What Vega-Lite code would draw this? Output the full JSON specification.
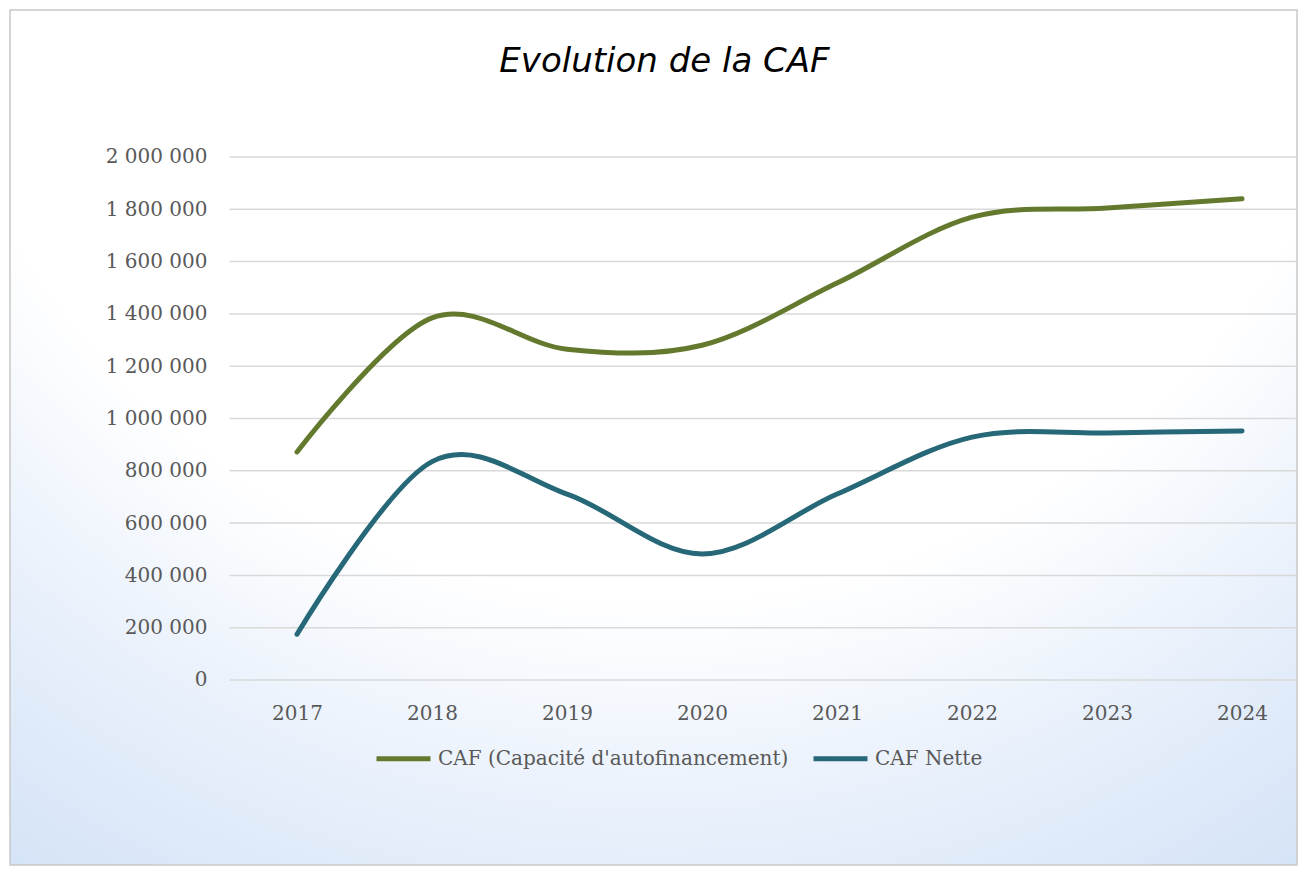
{
  "$schema": "https://vega.github.io/schema/vega-lite/v6.json",
  "width": 1287,
  "height": 855,
  "autosize": {"type": "none"},
  "padding": {"left": 10, "top": 10, "right": 5, "bottom": 5},
  "background": "#ffffff",
  "view": {
    "stroke": "#c8c8c8",
    "strokeWidth": 1.5,
    "fill": {
      "gradient": "radial",
      "x1": 0.5, "y1": 0.05, "r1": 0,
      "x2": 0.5, "y2": 0.05, "r2": 1.15,
      "stops": [
        {"offset": 0, "color": "#ffffff"},
        {"offset": 0.5, "color": "#ffffff"},
        {"offset": 0.65, "color": "#e8f0fb"},
        {"offset": 0.8, "color": "#d6e4f7"},
        {"offset": 0.93, "color": "#bcd1ef"},
        {"offset": 1, "color": "#adc6eb"}
      ]
    }
  },
  "title": {
    "text": "Evolution de la CAF",
    "font": "DejaVu Sans",
    "fontStyle": "italic",
    "fontWeight": "normal",
    "fontSize": 34,
    "color": "#000000",
    "anchor": "middle",
    "offset": -69,
    "dx": 11
  },
  "datasets": {
    "grille": [
      {"v": 0}, {"v": 200000}, {"v": 400000}, {"v": 600000}, {"v": 800000},
      {"v": 1000000}, {"v": 1200000}, {"v": 1400000}, {"v": 1600000}, {"v": 1800000}, {"v": 2000000}
    ],
    "caf": [
      {"annee": 2017, "serie": "CAF (Capacité d'autofinancement)", "valeur": 872000},
      {"annee": 2018, "serie": "CAF (Capacité d'autofinancement)", "valeur": 1385000},
      {"annee": 2019, "serie": "CAF (Capacité d'autofinancement)", "valeur": 1265000},
      {"annee": 2020, "serie": "CAF (Capacité d'autofinancement)", "valeur": 1280000},
      {"annee": 2021, "serie": "CAF (Capacité d'autofinancement)", "valeur": 1518000},
      {"annee": 2022, "serie": "CAF (Capacité d'autofinancement)", "valeur": 1770000},
      {"annee": 2023, "serie": "CAF (Capacité d'autofinancement)", "valeur": 1805000},
      {"annee": 2024, "serie": "CAF (Capacité d'autofinancement)", "valeur": 1840000},
      {"annee": 2017, "serie": "CAF Nette", "valeur": 175000},
      {"annee": 2018, "serie": "CAF Nette", "valeur": 835000},
      {"annee": 2019, "serie": "CAF Nette", "valeur": 711000},
      {"annee": 2020, "serie": "CAF Nette", "valeur": 482000},
      {"annee": 2021, "serie": "CAF Nette", "valeur": 711000},
      {"annee": 2022, "serie": "CAF Nette", "valeur": 929000},
      {"annee": 2023, "serie": "CAF Nette", "valeur": 945000},
      {"annee": 2024, "serie": "CAF Nette", "valeur": 952000}
    ]
  },
  "layer": [
    {
      "data": {"name": "grille"},
      "mark": {"type": "rule", "color": "#d9d9d9", "strokeWidth": 1.5},
      "encoding": {
        "y": {
          "field": "v", "type": "quantitative", "title": null,
          "scale": {"domain": [-707457, 2562141], "nice": false, "zero": false},
          "axis": {
            "orient": "left", "offset": -220,
            "values": [0, 200000, 400000, 600000, 800000, 1000000, 1200000, 1400000, 1600000, 1800000, 2000000],
            "labelExpr": "replace(format(datum.value, ','), regexp(',', 'g'), ' ')",
            "domain": false, "ticks": false, "grid": false,
            "labelFont": "DejaVu Serif", "labelFontSize": 20, "labelColor": "#595959",
            "labelPadding": 23, "labelFlush": false, "labelOverlap": false
          }
        },
        "x": {
          "datum": 2016.5, "type": "quantitative", "title": null,
          "scale": {"domain": [2014.874, 2024.407], "nice": false, "zero": false},
          "axis": {
            "orient": "bottom", "offset": -185, "values": [2017, 2018, 2019, 2020, 2021, 2022, 2023, 2024],
            "labelExpr": "toString(datum.value)", "domain": false, "ticks": false, "grid": false,
            "labelFont": "DejaVu Serif", "labelFontSize": 20, "labelColor": "#595959",
            "labelPadding": 23, "labelFlush": false, "labelOverlap": false
          }
        },
        "x2": {"datum": 2024.407}
      }
    },
    {
      "data": {"name": "caf"},
      "mark": {"type": "line", "interpolate": "cardinal", "strokeWidth": 5, "strokeCap": "round"},
      "encoding": {
        "x": {
          "field": "annee", "type": "quantitative", "title": null,
          "scale": {"domain": [2014.874, 2024.407], "nice": false, "zero": false},
          "axis": {
            "orient": "bottom", "offset": -185, "values": [2017, 2018, 2019, 2020, 2021, 2022, 2023, 2024],
            "labelExpr": "toString(datum.value)", "domain": false, "ticks": false, "grid": false,
            "labelFont": "DejaVu Serif", "labelFontSize": 20, "labelColor": "#595959",
            "labelPadding": 23, "labelFlush": false, "labelOverlap": false
          }
        },
        "y": {
          "field": "valeur", "type": "quantitative", "title": null,
          "scale": {"domain": [-707457, 2562141], "nice": false, "zero": false},
          "axis": {
            "orient": "left", "offset": -220,
            "values": [0, 200000, 400000, 600000, 800000, 1000000, 1200000, 1400000, 1600000, 1800000, 2000000],
            "labelExpr": "replace(format(datum.value, ','), regexp(',', 'g'), ' ')",
            "domain": false, "ticks": false, "grid": false,
            "labelFont": "DejaVu Serif", "labelFontSize": 20, "labelColor": "#595959",
            "labelPadding": 23, "labelFlush": false, "labelOverlap": false
          }
        },
        "color": {
          "field": "serie", "type": "nominal",
          "scale": {"domain": ["CAF (Capacité d'autofinancement)", "CAF Nette"], "range": ["#637a2e", "#266878"]},
          "legend": {
            "title": null, "orient": "none", "legendX": 364, "legendY": 719, "direction": "horizontal",
            "symbolType": "stroke", "symbolSize": 2916, "symbolStrokeWidth": 5,
            "labelFont": "DejaVu Serif", "labelFontSize": 20, "labelColor": "#595959",
            "labelOffset": 5, "columnPadding": 14, "padding": 0, "labelLimit": 600
          }
        }
      }
    }
  ]
}
